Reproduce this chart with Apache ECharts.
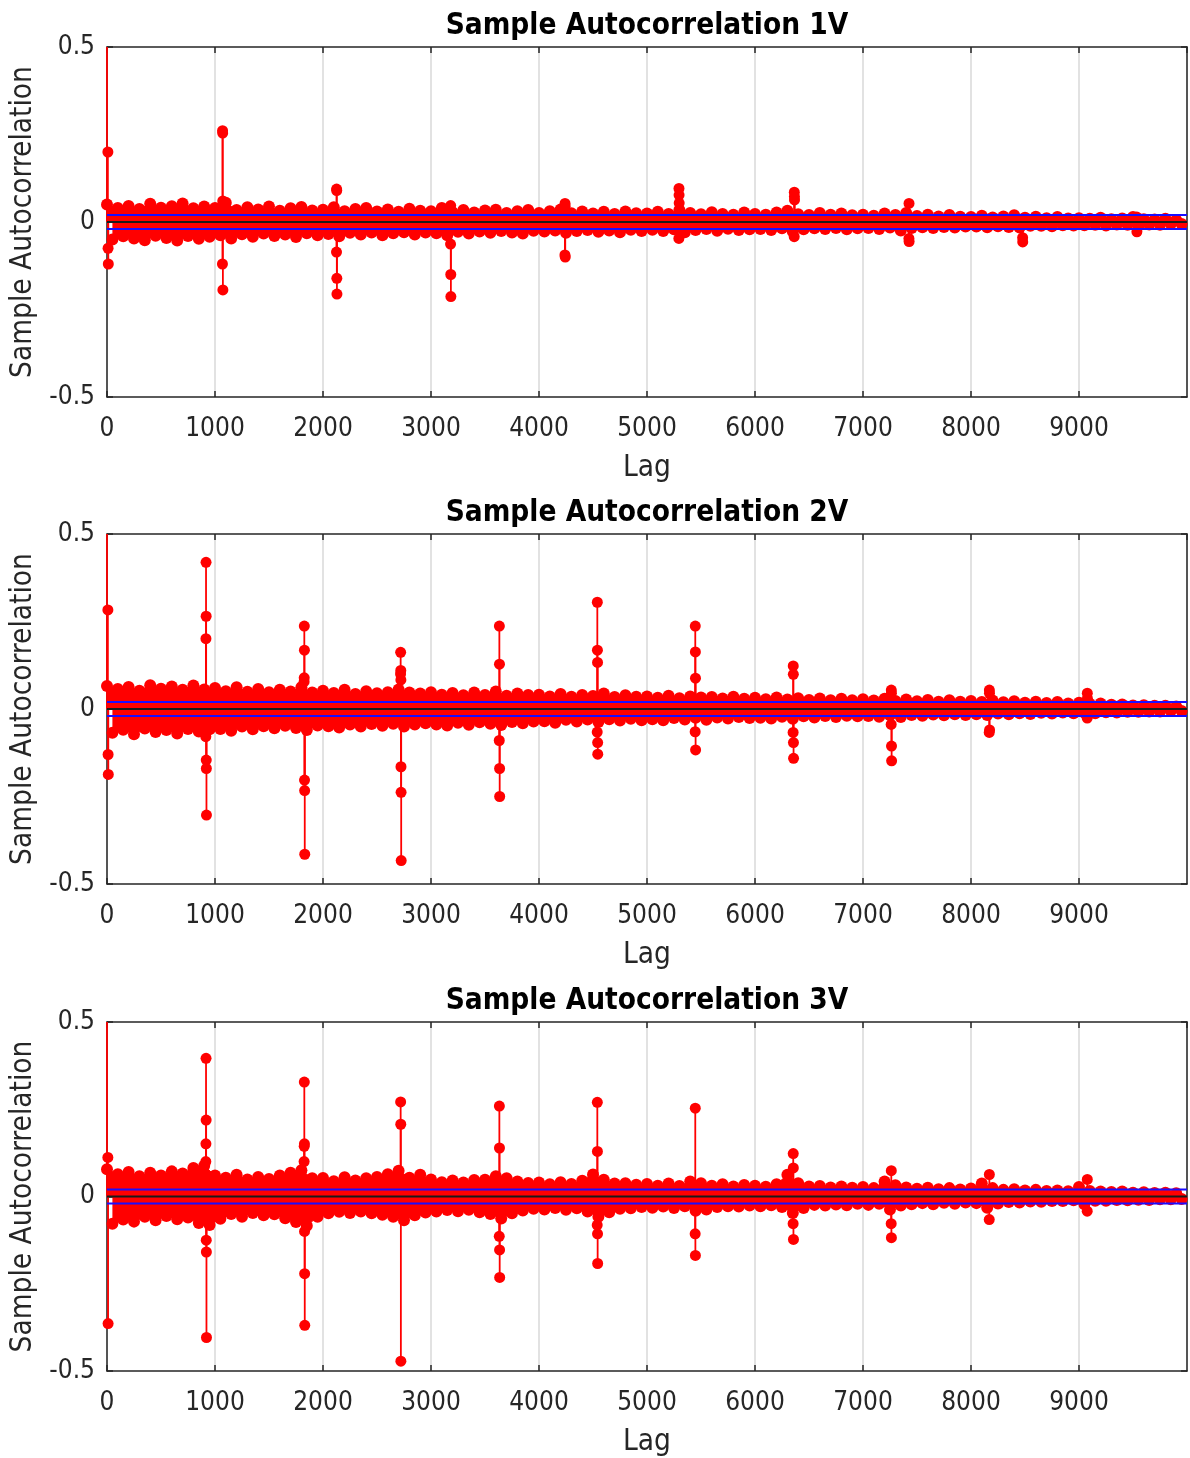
<!DOCTYPE html>
<html>
<head>
<meta charset="UTF-8">
<script src="https://cdn.jsdelivr.net/npm/echarts@6/dist/echarts.min.js"></script>
<style>
  html, body { margin: 0; padding: 0; background: #fff; }
  #chart { width: 1190px; height: 1458px; }
</style>
</head>
<body>
<div id="chart"></div>
<script>
// chart titles
var titles = ['Sample Autocorrelation 1V', 'Sample Autocorrelation 2V', 'Sample Autocorrelation 3V'];

// x ticks (lag) and y ticks
var lagTicks = [0, 1000, 2000, 3000, 4000, 5000, 6000, 7000, 8000, 9000, 10000];
var acfTicks = [-0.5, 0, 0.5];

// dense part of the acf: upper values sampled at lag 0,100,...; lower at 50,150,...
var bandStep = 100;

var band1Upper = [
  0.050, 0.040, 0.046, 0.037, 0.052, 0.041, 0.045, 0.053, 0.039, 0.044,
  0.040, 0.055, 0.034, 0.042, 0.036, 0.044, 0.032, 0.039, 0.043, 0.033,
  0.035, 0.042, 0.031, 0.037, 0.040, 0.030, 0.036, 0.029, 0.038, 0.032,
  0.031, 0.040, 0.028, 0.034, 0.027, 0.033, 0.035, 0.026, 0.031, 0.034,
  0.026, 0.031, 0.036, 0.025, 0.030, 0.024, 0.029, 0.023, 0.030, 0.025,
  0.024, 0.029, 0.023, 0.034, 0.026, 0.022, 0.028, 0.023, 0.021, 0.027,
  0.023, 0.021, 0.027, 0.032, 0.022, 0.020, 0.026, 0.021, 0.024, 0.019,
  0.021, 0.018, 0.024, 0.020, 0.026, 0.017, 0.021, 0.016, 0.020, 0.015,
  0.014, 0.018, 0.013, 0.016, 0.019, 0.012, 0.015, 0.011, 0.014, 0.010,
  0.011, 0.009, 0.012, 0.008, 0.010, 0.014, 0.008, 0.007, 0.009, 0.006
];
var band1Lower = [
  -0.050, -0.041, -0.047, -0.052, -0.039, -0.046, -0.053, -0.040, -0.048, -0.042,
  -0.038, -0.047, -0.035, -0.042, -0.033, -0.040, -0.036, -0.043, -0.032, -0.038,
  -0.034, -0.041, -0.031, -0.036, -0.030, -0.038, -0.032, -0.029, -0.036, -0.030,
  -0.032, -0.038, -0.028, -0.033, -0.027, -0.031, -0.026, -0.030, -0.033, -0.025,
  -0.027, -0.024, -0.031, -0.026, -0.023, -0.028, -0.024, -0.029, -0.022, -0.026,
  -0.022, -0.026, -0.021, -0.029, -0.023, -0.020, -0.025, -0.019, -0.023, -0.021,
  -0.020, -0.023, -0.018, -0.027, -0.021, -0.018, -0.020, -0.017, -0.021, -0.018,
  -0.017, -0.020, -0.016, -0.024, -0.017, -0.015, -0.017, -0.014, -0.016, -0.013,
  -0.013, -0.015, -0.012, -0.014, -0.016, -0.011, -0.011, -0.012, -0.009, -0.010,
  -0.009, -0.008, -0.010, -0.007, -0.008, -0.011, -0.007, -0.008, -0.006, -0.006
];

var band2Upper = [
  0.066, 0.057, 0.063, 0.052, 0.068, 0.058, 0.064, 0.055, 0.067, 0.056,
  0.060, 0.051, 0.062, 0.049, 0.057, 0.048, 0.055, 0.050, 0.062, 0.047,
  0.052, 0.046, 0.055, 0.043, 0.051, 0.045, 0.048, 0.056, 0.047, 0.044,
  0.048, 0.041, 0.046, 0.039, 0.047, 0.040, 0.050, 0.038, 0.044, 0.040,
  0.041, 0.036, 0.043, 0.035, 0.040, 0.037, 0.044, 0.034, 0.039, 0.035,
  0.036, 0.032, 0.038, 0.031, 0.036, 0.033, 0.034, 0.030, 0.035, 0.029,
  0.032, 0.028, 0.033, 0.027, 0.031, 0.026, 0.030, 0.025, 0.029, 0.025,
  0.028, 0.024, 0.029, 0.023, 0.027, 0.022, 0.026, 0.021, 0.025, 0.021,
  0.023, 0.020, 0.024, 0.019, 0.022, 0.018, 0.021, 0.017, 0.020, 0.016,
  0.018, 0.015, 0.016, 0.012, 0.013, 0.010, 0.011, 0.009, 0.009, 0.007
];
var band2Lower = [
  -0.068, -0.059, -0.072, -0.056, -0.066, -0.060, -0.070, -0.057, -0.064, -0.058,
  -0.057, -0.062, -0.050, -0.058, -0.049, -0.055, -0.048, -0.054, -0.060, -0.047,
  -0.049, -0.053, -0.044, -0.050, -0.043, -0.048, -0.042, -0.050, -0.044, -0.041,
  -0.044, -0.047, -0.039, -0.045, -0.038, -0.042, -0.046, -0.037, -0.041, -0.036,
  -0.035, -0.039, -0.031, -0.036, -0.030, -0.037, -0.029, -0.033, -0.028, -0.032,
  -0.029, -0.032, -0.026, -0.030, -0.025, -0.031, -0.024, -0.027, -0.023, -0.026,
  -0.025, -0.027, -0.022, -0.028, -0.021, -0.024, -0.020, -0.023, -0.019, -0.021,
  -0.020, -0.022, -0.018, -0.023, -0.017, -0.019, -0.016, -0.018, -0.015, -0.017,
  -0.015, -0.017, -0.013, -0.015, -0.012, -0.014, -0.011, -0.013, -0.010, -0.012,
  -0.011, -0.012, -0.009, -0.010, -0.008, -0.008, -0.007, -0.007, -0.006, -0.006
];

var band3Upper = [
  0.078, 0.064, 0.070, 0.058, 0.068, 0.060, 0.072, 0.066, 0.082, 0.088,
  0.060, 0.054, 0.062, 0.049, 0.056, 0.050, 0.060, 0.068, 0.075, 0.052,
  0.053, 0.044, 0.055, 0.046, 0.052, 0.056, 0.064, 0.074, 0.054, 0.062,
  0.049, 0.041, 0.046, 0.040, 0.047, 0.048, 0.058, 0.052, 0.043, 0.039,
  0.040, 0.035, 0.041, 0.036, 0.045, 0.063, 0.048, 0.037, 0.038, 0.034,
  0.036, 0.031, 0.037, 0.030, 0.043, 0.038, 0.031, 0.035, 0.029, 0.033,
  0.031, 0.028, 0.035, 0.062, 0.038, 0.029, 0.030, 0.026, 0.029, 0.025,
  0.027, 0.024, 0.043, 0.032, 0.026, 0.022, 0.025, 0.021, 0.024, 0.020,
  0.023, 0.037, 0.024, 0.019, 0.021, 0.017, 0.019, 0.016, 0.017, 0.015,
  0.027, 0.016, 0.014, 0.013, 0.014, 0.011, 0.012, 0.010, 0.011, 0.009
];
var band3Lower = [
  -0.078, -0.066, -0.072, -0.058, -0.068, -0.056, -0.065, -0.060, -0.076, -0.082,
  -0.064, -0.050, -0.058, -0.047, -0.054, -0.051, -0.062, -0.073, -0.084, -0.058,
  -0.048, -0.044, -0.047, -0.043, -0.048, -0.052, -0.058, -0.068, -0.054, -0.046,
  -0.043, -0.039, -0.042, -0.038, -0.045, -0.050, -0.063, -0.048, -0.040, -0.035,
  -0.037, -0.033, -0.038, -0.034, -0.043, -0.058, -0.045, -0.035, -0.034, -0.030,
  -0.032, -0.029, -0.033, -0.028, -0.041, -0.037, -0.030, -0.028, -0.029, -0.026,
  -0.028, -0.025, -0.030, -0.047, -0.033, -0.024, -0.026, -0.023, -0.025, -0.021,
  -0.024, -0.021, -0.037, -0.026, -0.022, -0.019, -0.022, -0.018, -0.021, -0.017,
  -0.019, -0.032, -0.020, -0.016, -0.017, -0.014, -0.015, -0.013, -0.013, -0.011,
  -0.022, -0.012, -0.012, -0.010, -0.011, -0.009, -0.010, -0.008, -0.008, -0.007
];

// isolated large lags: [lag, acf]
var spikes1 = [
  [0, 1], [8, 0.2], [10, -0.075], [12, -0.12],
  [1069, -0.12], [1070, 0.261], [1071, 0.254], [1072, 0.06], [1073, -0.194],
  [2125, -0.086], [2126, 0.094], [2127, 0.09], [2128, -0.161], [2129, -0.206],
  [3181, -0.063], [3182, 0.047], [3183, -0.15], [3184, -0.213],
  [4240, -0.094], [4241, 0.053], [4242, 0.045], [4243, -0.1],
  [5295, -0.047], [5296, 0.096], [5297, 0.077], [5298, 0.054],
  [6363, -0.042], [6364, 0.085], [6365, 0.073], [6366, 0.063],
  [7425, -0.047], [7426, 0.053], [7427, -0.056],
  [8478, -0.045], [8479, -0.057],
  [9535, 0.014], [9536, -0.028]
];
var spikes2 = [
  [0, 1], [8, 0.283], [10, -0.13], [12, -0.187],
  [915, -0.079], [916, 0.201], [917, 0.419], [918, 0.265], [919, -0.146], [920, -0.17], [921, -0.303],
  [1825, 0.078], [1826, 0.089], [1827, 0.237], [1828, 0.168], [1829, -0.203], [1830, -0.233], [1831, -0.415],
  [2718, 0.1], [2719, 0.162], [2720, 0.11], [2721, 0.083], [2722, -0.165], [2723, -0.238], [2724, -0.433],
  [3632, -0.09], [3633, 0.237], [3634, 0.128], [3635, -0.17], [3636, -0.25],
  [4539, -0.066], [4540, 0.305], [4541, 0.168], [4542, 0.133], [4543, -0.096], [4544, -0.129],
  [5446, -0.065], [5447, 0.237], [5448, 0.163], [5449, 0.088], [5450, -0.117],
  [6353, -0.067], [6354, 0.123], [6355, 0.099], [6356, -0.096], [6357, -0.141],
  [7261, -0.044], [7262, 0.054], [7263, 0.045], [7264, -0.106], [7265, -0.148],
  [8169, -0.067], [8170, 0.054], [8171, 0.045], [8172, -0.06],
  [9076, -0.026], [9077, 0.045], [9078, 0.03]
];
var spikes3 = [
  [0, 1], [8, 0.112], [10, -0.364],
  [915, 0.1], [916, 0.151], [917, 0.396], [918, 0.219], [919, -0.125], [920, -0.159], [921, -0.404],
  [1825, 0.1], [1826, 0.144], [1827, 0.328], [1828, 0.151], [1829, -0.1], [1830, -0.221], [1831, -0.369],
  [2719, 0.271], [2720, 0.207], [2721, -0.472],
  [3632, -0.114], [3633, 0.259], [3634, 0.139], [3635, -0.153], [3636, -0.232],
  [4539, -0.082], [4540, 0.27], [4541, 0.129], [4542, -0.107], [4543, -0.192],
  [5446, -0.107], [5447, 0.253], [5448, -0.169],
  [6353, -0.078], [6354, 0.123], [6355, 0.082], [6356, -0.123],
  [7261, -0.078], [7262, 0.074], [7263, -0.118],
  [8169, -0.066], [8170, 0.063],
  [9076, -0.042], [9077, 0.049]
];

// confidence bounds
var confBounds = [0.02, 0.02, 0.02];

var bandsUpper = [band1Upper, band2Upper, band3Upper];
var bandsLower = [band1Lower, band2Lower, band3Lower];
var spikes = [spikes1, spikes2, spikes3];

var FONT = '"DejaVu Sans Condensed", "DejaVu Sans", sans-serif';
var INK = '#262626';
var RED = '#ff0000';
var gridTops = [47, 534, 1022];
var gridH = 350, gridLeft = 107, gridW = 1080;

// stem: line from zero to the value plus a filled dot, clipped to the axes box
function stem(lineWidth, radius) {
  return function (params, api) {
    var lag = api.value(0), v = api.value(1);
    var base = api.coord([lag, 0]);
    var tip = api.coord([lag, v]);
    var cs = params.coordSys;
    var yEnd = Math.min(Math.max(tip[1], cs.y), cs.y + cs.height);
    var kids = [{
      type: 'line',
      shape: { x1: base[0], y1: base[1], x2: tip[0], y2: yEnd },
      style: { stroke: RED, lineWidth: lineWidth }
    }];
    if (tip[1] >= cs.y && tip[1] <= cs.y + cs.height) {
      kids.push({ type: 'circle', shape: { cx: tip[0], cy: tip[1], r: radius }, style: { fill: RED } });
    }
    return { type: 'group', children: kids };
  };
}

// dense band: filled down to zero with a dot on every sample
function bandSeries(idx, values, offset) {
  return {
    type: 'line', xAxisIndex: idx, yAxisIndex: idx, z: 2, silent: true,
    symbol: 'circle', symbolSize: 12, showAllSymbol: true,
    itemStyle: { color: RED }, lineStyle: { color: RED, width: 1 },
    areaStyle: { color: RED, opacity: 1, origin: 0 },
    data: values.map(function (v, k) { return [k * bandStep + offset, v]; })
  };
}

var chart = echarts.init(document.getElementById('chart'), null, { renderer: 'canvas' });

var grid = [], xAxis = [], yAxis = [], title = [], series = [];
var tickText = { fontFamily: FONT, fontSize: 26, color: INK };
var boxLine = { onZero: false, lineStyle: { color: INK, width: 1.5 } };
var boxTick = { inside: true, length: 6, lineStyle: { color: INK, width: 1.5 } };
for (var i = 0; i < 3; i++) {
  grid.push({ left: gridLeft, top: gridTops[i], width: gridW, height: gridH });
  title.push({
    text: titles[i], left: gridLeft + gridW / 2, top: gridTops[i] - 36, textAlign: 'center', padding: 0,
    textStyle: { fontFamily: FONT, fontWeight: 'bold', fontSize: 29.5, color: '#000' }
  });
  xAxis.push({
    gridIndex: i, type: 'value', min: lagTicks[0], max: lagTicks[lagTicks.length - 1], interval: 1000,
    name: 'Lag', nameLocation: 'middle', nameGap: 56,
    nameTextStyle: { fontFamily: FONT, fontSize: 29.5, color: INK },
    axisLine: boxLine, axisTick: boxTick,
    axisLabel: Object.assign({ showMaxLabel: false, margin: 19, formatter: function (v) { return String(v); } }, tickText),
    splitLine: { show: true, lineStyle: { color: '#e2e2e2', width: 2 } }
  });
  xAxis.push({
    gridIndex: i, type: 'value', position: 'top', min: lagTicks[0], max: lagTicks[lagTicks.length - 1], interval: 1000,
    axisLine: boxLine, axisTick: boxTick,
    axisLabel: { show: false }, splitLine: { show: false }
  });
  yAxis.push({
    gridIndex: i, type: 'value', min: acfTicks[0], max: acfTicks[2], interval: 0.5,
    name: 'Sample Autocorrelation', nameLocation: 'middle', nameGap: 64, nameRotate: 90,
    nameTextStyle: { fontFamily: FONT, fontSize: 29.5, color: INK },
    axisLine: Object.assign({ show: true }, boxLine), axisTick: Object.assign({ show: true }, boxTick),
    axisLabel: Object.assign({ margin: 12, padding: [4, 0, 0, 0] }, tickText),
    splitLine: { show: false }
  });
  yAxis.push({
    gridIndex: i, type: 'value', position: 'right', min: acfTicks[0], max: acfTicks[2], interval: 0.5,
    axisLine: Object.assign({ show: true }, boxLine), axisTick: Object.assign({ show: true }, boxTick),
    axisLabel: { show: false }, splitLine: { show: false }
  });

  var xi = i * 2;
  series.push(bandSeries(xi, bandsUpper[i], 0));
  series.push(bandSeries(xi, bandsLower[i], bandStep / 2));
  series.push({
    type: 'custom', xAxisIndex: xi, yAxisIndex: xi, z: 3, silent: true,
    renderItem: stem(1.8, 5.5),
    data: spikes[i]
  });
  var b = confBounds[i];
  [[b, '#1a0dff'], [-b, '#1a0dff'], [0, '#1a1a1a']].forEach(function (ln) {
    series.push({
      type: 'line', xAxisIndex: xi, yAxisIndex: xi, z: 5, silent: true, symbol: 'none',
      lineStyle: { color: ln[1], width: 2 },
      data: [[lagTicks[0], ln[0]], [lagTicks[lagTicks.length - 1], ln[0]]]
    });
  });
}

chart.setOption({
  backgroundColor: '#ffffff',
  animation: false,
  title: title,
  grid: grid,
  xAxis: xAxis,
  yAxis: yAxis,
  series: series
});
</script>
</body>
</html>
